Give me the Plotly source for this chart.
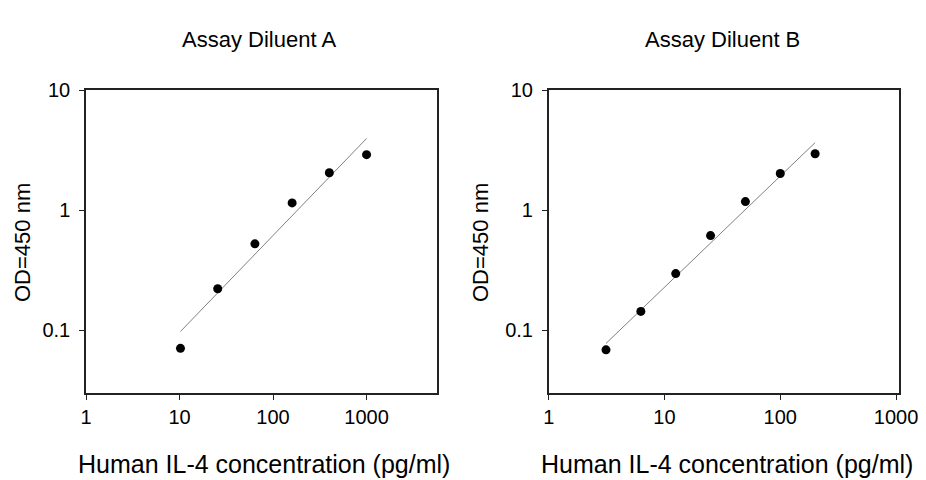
import numpy as np
import plotly.graph_objects as go

# diluent A
conc_a = [10.24, 25.6, 64, 160, 400, 1000]
od_a = [0.071, 0.222, 0.525, 1.15, 2.05, 2.90]
fit_a_x = [10.24, 1000]
fit_a_y = [0.098, 3.95]

# diluent B
conc_b = [3.125, 6.25, 12.5, 25, 50, 100, 200]
od_b = [0.069, 0.144, 0.297, 0.615, 1.18, 2.02, 2.95]
fit_b_x = [3.125, 200]
fit_b_y = [0.078, 3.65]

x_ticks = [1, 10, 100, 1000]
x_labels = ["1", "10", "100", "1000"]
y_ticks = [0.1, 1, 10]
y_labels = ["0.1", "1", "10"]

FONT = "Liberation Sans, Arial, sans-serif"

# la pagina tiene 8px de margen en el body
OFF = 8
W, H = 926 - OFF, 480 - OFF

def px(x):
    return (x - OFF) / W

def py(y):
    return 1 - (y - OFF) / H

fig = go.Figure()

# lineas de ajuste y puntos
fig.add_trace(go.Scatter(x=fit_a_x, y=fit_a_y, mode="lines",
                         line=dict(color="#808080", width=1), xaxis="x", yaxis="y"))
fig.add_trace(go.Scatter(x=conc_a, y=od_a, mode="markers",
                         marker=dict(color="black", size=9), xaxis="x", yaxis="y"))
fig.add_trace(go.Scatter(x=fit_b_x, y=fit_b_y, mode="lines",
                         line=dict(color="#808080", width=1), xaxis="x2", yaxis="y2"))
fig.add_trace(go.Scatter(x=conc_b, y=od_b, mode="markers",
                         marker=dict(color="black", size=9), xaxis="x2", yaxis="y2"))

ejes = dict(type="log", showgrid=False, zeroline=False, showline=True, mirror=True,
            linecolor="#222", linewidth=1.5, ticks="outside", ticklen=5,
            tickcolor="#222", tickfont=dict(family=FONT, size=20, color="black"))

ydom = [py(393.3), py(90)]
fig.update_layout(
    width=W, height=H, margin=dict(l=0, r=0, t=0, b=0, autoexpand=False),
    paper_bgcolor="white", plot_bgcolor="white", showlegend=False,
    font=dict(family=FONT, color="black"),
    xaxis=dict(ejes, domain=[px(86), px(436.7)], range=[0, 3.75],
               tickvals=x_ticks, ticktext=x_labels, anchor="y"),
    yaxis=dict(ejes, domain=ydom, range=[np.log10(0.03), 1], ticklabelstandoff=5,
               tickvals=y_ticks, ticktext=y_labels, anchor="x"),
    xaxis2=dict(ejes, domain=[px(548.7), px(899.3)], range=[0, 3.028],
                tickvals=x_ticks, ticktext=x_labels, anchor="y2"),
    yaxis2=dict(ejes, domain=ydom, range=[np.log10(0.03), 1], ticklabelstandoff=5,
                tickvals=y_ticks, ticktext=y_labels, anchor="x2"),
)

# textos
def texto(x, y, t, size, angle=0):
    fig.add_annotation(x=px(x), y=py(y), xref="paper", yref="paper",
                       text=t, showarrow=False, textangle=angle,
                       font=dict(family=FONT, size=size, color="black"),
                       xanchor="center", yanchor="middle")

texto(259, 39, "Assay Diluent A", 22)
texto(722, 39, "Assay Diluent B", 22)
texto(264, 464, "Human IL-4 concentration (pg/ml)", 25)
texto(727, 464, "Human IL-4 concentration (pg/ml)", 25)
texto(22, 243, "OD=450 nm", 22, -90)
texto(480, 243, "OD=450 nm", 22, -90)

fig.write_html("out.html")
